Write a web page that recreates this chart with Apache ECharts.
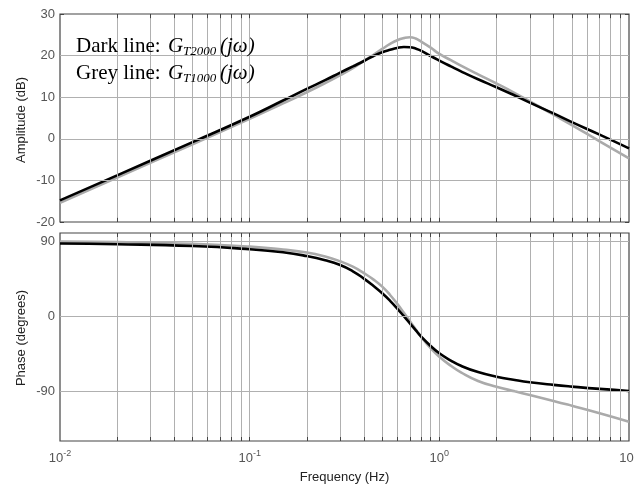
<!DOCTYPE html>
<html><head><meta charset="utf-8">
<script src="https://cdn.jsdelivr.net/npm/echarts@6/dist/echarts.min.js"></script>
<style>html,body{margin:0;padding:0;background:#fff}#c{width:634px;height:487px}</style>
</head><body><div id="c"></div>
<script>
// Frequencies (Hz) at which the curves were read
const freq = [0.01, 0.02, 0.05, 0.1, 0.15, 0.2, 0.25, 0.3, 0.35, 0.4, 0.45, 0.5, 0.55, 0.6, 0.65, 0.7, 0.75, 0.8, 0.9, 1.0, 1.15, 1.3, 1.6, 2, 2.5, 3, 4, 5, 7, 10];
// Amplitude (dB)
const ampDark = [-14.8, -8.8, -0.8, 5.3, 9.2, 12.0, 14.1, 15.9, 17.4, 18.7, 19.9, 20.8, 21.4, 21.85, 22.05, 22.0, 21.7, 21.2, 19.9, 18.8, 17.4, 16.2, 14.3, 12.4, 10.4, 8.7, 6.1, 4.0, 1.0, -2.3];
const ampGrey = [-15.4, -9.3, -1.3, 4.8, 8.5, 11.2, 13.4, 15.3, 17.0, 18.7, 20.2, 21.6, 22.8, 23.7, 24.2, 24.4, 24.1, 23.4, 21.9, 20.4, 18.9, 17.6, 15.5, 13.3, 11.0, 9.0, 5.8, 3.3, -0.6, -4.7];
// Phase (degrees)
const phaseDark = [87.3, 86.5, 84.3, 80.5, 76.8, 72.3, 67.3, 61.5, 54.0, 45.2, 36.3, 27.5, 18.5, 9.2, 0, -8.6, -16.8, -24.2, -35.8, -44.6, -53.4, -59.6, -67.2, -72.7, -76.6, -79.3, -82.5, -84.6, -87.4, -89.9];
const phaseGrey = [89.6, 89.0, 87.0, 83.6, 80.0, 76.6, 71.8, 66.0, 59.5, 51.8, 44.0, 35.5, 25.5, 14.8, 4.0, -6.2, -15.7, -24.5, -38.5, -48.7, -59.6, -67.5, -77.8, -84.7, -90.3, -94.7, -101.8, -107.6, -116.6, -126.8];

// Axis ticks / grid positions
const ampTicks = [-20, -10, 0, 10, 20, 30];
const ampGridLines = [-10, 0, 10, 20];
const phaseTicks = [-90, 0, 90];
const freqGridLines = [0.02,0.03,0.04,0.05,0.06,0.07,0.08,0.09,0.1,0.2,0.3,0.4,0.5,0.6,0.7,0.8,0.9,1,2,3,4,5,6,7,8,9];

const sans = "'Liberation Sans', Arial, sans-serif";
const serif = "'Liberation Serif', 'Times New Roman', serif";
const txt = '#555';
const gridCol = '#b0b0b0';

const pairs = (ys) => freq.map((f, i) => [f, ys[i]]);

function gridHelper(xi, yi, yVals) {
  const data = freqGridLines.map(v => ({xAxis: v})).concat(yVals.map(v => ({yAxis: v})));
  return {
    type: 'line', xAxisIndex: xi, yAxisIndex: yi, data: [], z: 1, silent: true,
    markLine: { silent: true, symbol: 'none', animation: false, label: {show: false},
      lineStyle: {color: gridCol, width: 1, type: 'solid'}, emphasis: {disabled: true},
      data: data }
  };
}
// short inward ticks on top and bottom edges at every grid frequency
function edgeTicks(xi, yi, yMin, yMax, len) {
  const data = [];
  freqGridLines.forEach(v => {
    data.push([{coord: [v, yMax]}, {coord: [v, yMax - len]}]);
    data.push([{coord: [v, yMin]}, {coord: [v, yMin + len]}]);
  });
  return {
    type: 'line', xAxisIndex: xi, yAxisIndex: yi, data: [], z: 2, silent: true,
    markLine: { silent: true, symbol: 'none', animation: false, label: {show: false},
      lineStyle: {color: '#444', width: 1, type: 'solid'}, emphasis: {disabled: true},
      data: data }
  };
}

const xAxisBase = {
  type: 'log', logBase: 10, min: 0.01, max: 10,
  axisLine: {show: false}, axisTick: {show: false}, splitLine: {show: false}, minorSplitLine: {show: false}
};
const tickStyle = {show: true, inside: true, length: 4, lineStyle: {color: '#444'}};

const chart = echarts.init(document.getElementById('c'), null, {renderer: 'canvas'});
chart.setOption({
  animation: false,
  backgroundColor: '#fff',
  grid: [
    {left: 60, top: 14, width: 569, height: 208, show: true, borderColor: '#444', borderWidth: 1.2, backgroundColor: 'transparent', containLabel: false, outerBoundsMode: 'none'},
    {left: 60, top: 233, width: 569, height: 208, show: true, borderColor: '#444', borderWidth: 1.2, backgroundColor: 'transparent', containLabel: false, outerBoundsMode: 'none'}
  ],
  xAxis: [
    Object.assign({}, xAxisBase, {gridIndex: 0, axisLabel: {show: false}}),
    Object.assign({}, xAxisBase, {gridIndex: 1,
      name: 'Frequency (Hz)', nameLocation: 'middle', nameGap: 30,
      nameTextStyle: {fontFamily: sans, fontSize: 13, color: '#222'},
      axisLabel: {show: true, margin: 8, color: txt,
        formatter: v => '{b|10}{s|' + Math.round(Math.log10(v)) + '}',
        rich: {
          b: {fontFamily: sans, fontSize: 13, color: txt, lineHeight: 16, verticalAlign: 'bottom'},
          s: {fontFamily: sans, fontSize: 9, color: txt, lineHeight: 10, verticalAlign: 'top'}
        }}})
  ],
  yAxis: [
    {type: 'value', gridIndex: 0, min: -20, max: 30, interval: 10,
      axisLine: {show: false}, splitLine: {show: false}, axisTick: tickStyle,
      axisLabel: {color: txt, fontFamily: sans, fontSize: 13, margin: 5}},
    {type: 'value', gridIndex: 1, min: -150, max: 100, interval: 30,
      axisLine: {show: false}, splitLine: {show: false},
      axisTick: Object.assign({}, tickStyle, {customValues: phaseTicks}),
      axisLabel: {color: txt, fontFamily: sans, fontSize: 13, margin: 5, customValues: phaseTicks,
        formatter: v => (phaseTicks.indexOf(v) >= 0 ? String(v) : '')}},
    {type: 'value', gridIndex: 0, position: 'right', min: -20, max: 30, interval: 10,
      axisLine: {show: false}, splitLine: {show: false}, axisTick: tickStyle, axisLabel: {show: false}},
    {type: 'value', gridIndex: 1, position: 'right', min: -150, max: 100, interval: 30,
      axisLine: {show: false}, splitLine: {show: false},
      axisTick: Object.assign({}, tickStyle, {customValues: phaseTicks}), axisLabel: {show: false}}
  ],
  series: [
    gridHelper(0, 0, ampGridLines),
    gridHelper(1, 1, phaseTicks),
    edgeTicks(0, 0, -20, 30, 1),
    edgeTicks(1, 1, -150, 100, 4.8),
    {type: 'line', name: 'Grey amp', xAxisIndex: 0, yAxisIndex: 0, data: pairs(ampGrey), smooth: 0.5, showSymbol: false, z: 3,
      lineStyle: {color: '#aaaaaa', width: 2.6}},
    {type: 'line', name: 'Dark amp', xAxisIndex: 0, yAxisIndex: 0, data: pairs(ampDark), smooth: 0.5, showSymbol: false, z: 4,
      lineStyle: {color: '#000', width: 2.6}},
    {type: 'line', name: 'Grey phase', xAxisIndex: 1, yAxisIndex: 1, data: pairs(phaseGrey), smooth: 0.5, showSymbol: false, z: 3,
      lineStyle: {color: '#aaaaaa', width: 2.6}},
    {type: 'line', name: 'Dark phase', xAxisIndex: 1, yAxisIndex: 1, data: pairs(phaseDark), smooth: 0.5, showSymbol: false, z: 4,
      lineStyle: {color: '#000', width: 2.6}}
  ],
  graphic: [
    {type: 'text', x: 21, y: 120, rotation: Math.PI / 2, z: 10,
      style: {text: 'Amplitude (dB)', fontFamily: sans, fontSize: 13, fill: '#222', align: 'center', verticalAlign: 'middle'}},
    {type: 'text', x: 21, y: 338, rotation: Math.PI / 2, z: 10,
      style: {text: 'Phase (degrees)', fontFamily: sans, fontSize: 13, fill: '#222', align: 'center', verticalAlign: 'middle'}},
    {type: 'rect', shape: {x: 72, y: 29, width: 193, height: 67}, style: {fill: '#fff'}, z: 5},
    {type: 'text', x: 76, y: 46, z: 10, style: {text: 'Dark line: ', fontFamily: serif, fontSize: 21, fill: '#000', verticalAlign: 'middle'}},
    {type: 'text', x: 168, y: 46, z: 10, style: {text: 'G', fontFamily: serif, fontStyle: 'italic', fontSize: 21, fill: '#000', verticalAlign: 'middle'}},
    {type: 'text', x: 183, y: 52, z: 10, style: {text: 'T2000', fontFamily: serif, fontStyle: 'italic', fontSize: 13, fill: '#000', verticalAlign: 'middle'}},
    {type: 'text', x: 220, y: 46, z: 10, style: {text: '(jω)', fontFamily: serif, fontStyle: 'italic', fontSize: 21, fill: '#000', verticalAlign: 'middle'}},
    {type: 'text', x: 76, y: 73, z: 10, style: {text: 'Grey line: ', fontFamily: serif, fontSize: 21, fill: '#000', verticalAlign: 'middle'}},
    {type: 'text', x: 168, y: 73, z: 10, style: {text: 'G', fontFamily: serif, fontStyle: 'italic', fontSize: 21, fill: '#000', verticalAlign: 'middle'}},
    {type: 'text', x: 183, y: 79, z: 10, style: {text: 'T1000', fontFamily: serif, fontStyle: 'italic', fontSize: 13, fill: '#000', verticalAlign: 'middle'}},
    {type: 'text', x: 220, y: 73, z: 10, style: {text: '(jω)', fontFamily: serif, fontStyle: 'italic', fontSize: 21, fill: '#000', verticalAlign: 'middle'}}
  ]
});
</script>
</body></html>
